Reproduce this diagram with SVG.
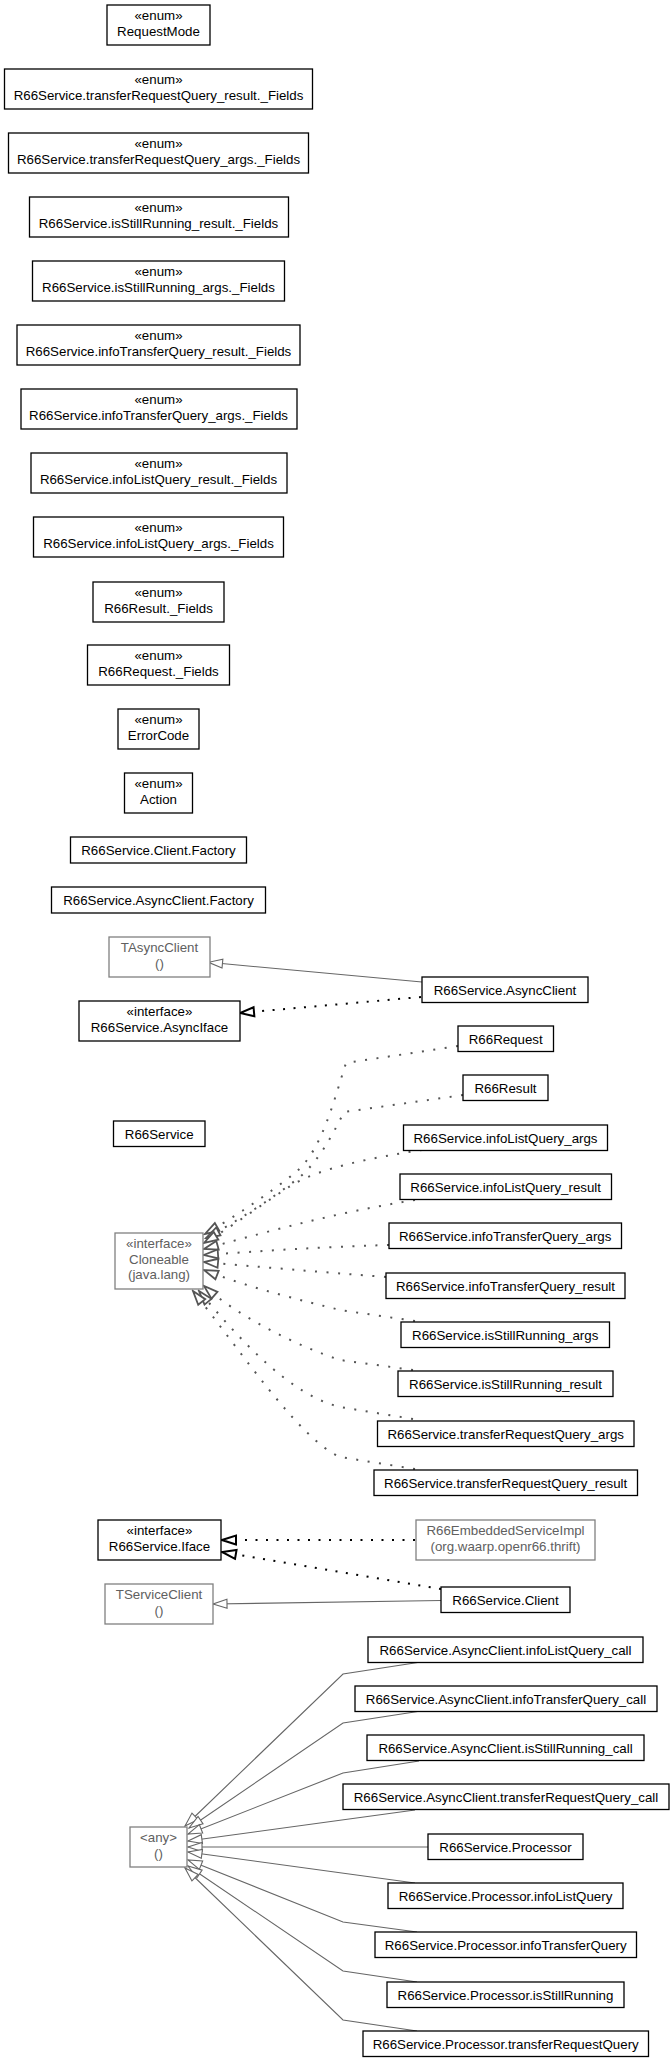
<svg xmlns="http://www.w3.org/2000/svg" width="671" height="2062" viewBox="0 0 671 2062">
<style>
.n rect{fill:#fff;stroke:#000;stroke-width:1.3}
.g rect{fill:#fff;stroke:#808080;stroke-width:1.3}
text{font-family:"Liberation Sans",Arial,sans-serif;font-size:13.3px;text-anchor:middle;fill:#000}
.g text{fill:#606060}
.e path{fill:none}
.solid{stroke:#666;stroke-width:1.1}
.real{stroke:#000;stroke-width:2;stroke-dasharray:2 8.5}
.clo{stroke:#555;stroke-width:2;stroke-dasharray:2 9.5}
</style>
<defs>
<marker id="mThin" viewBox="-2 -7 18 14" refX="14" refY="0" markerWidth="18" markerHeight="14" markerUnits="userSpaceOnUse" orient="auto">
<path d="M0,-4.5 L14,0 L0,4.5 Z" fill="#fff" stroke="#666" stroke-width="1.1"/>
</marker>
<marker id="mBold" viewBox="-2 -7 18 14" refX="14" refY="0" markerWidth="18" markerHeight="14" markerUnits="userSpaceOnUse" orient="auto">
<path d="M0,-4.5 L14,0 L0,4.5 Z" fill="#fff" stroke="#000" stroke-width="2"/>
</marker>
<marker id="mGray" viewBox="-2 -7 18 14" refX="14" refY="0" markerWidth="18" markerHeight="14" markerUnits="userSpaceOnUse" orient="auto">
<path d="M0,-4.5 L14,0 L0,4.5 Z" fill="#fff" stroke="#555" stroke-width="1.8"/>
</marker>
</defs>
<rect width="671" height="2062" fill="#fff"/>

<g id="edges" class="e">
<path class="solid" d="M422,982 L208.5,962.3" marker-end="url(#mThin)"/>
<path class="real" d="M421,997 L240,1013" marker-end="url(#mBold)"/>
<path class="clo" d="M458,1046 L346,1063 C334,1100 322,1150 296,1172 C270,1193 236,1216 205,1234" marker-end="url(#mGray)"/>
<path class="clo" d="M463,1095 L344,1112 C330,1140 316,1165 296,1180 C270,1200 236,1222 206,1238" marker-end="url(#mGray)"/>
<path class="clo" d="M422,1150 C370,1158 320,1168 292,1185 C265,1202 236,1224 204,1243" marker-end="url(#mGray)"/>
<path class="clo" d="M415,1200 C340,1212 280,1228 204,1249" marker-end="url(#mGray)"/>
<path class="clo" d="M389,1245 C320,1247 260,1251 204,1255" marker-end="url(#mGray)"/>
<path class="clo" d="M386,1277 C320,1272 260,1267 204,1262" marker-end="url(#mGray)"/>
<path class="clo" d="M415,1321 L340,1310 C300,1300 250,1288 204,1270" marker-end="url(#mGray)"/>
<path class="clo" d="M413,1370 L340,1360 C300,1347 240,1318 204,1286" marker-end="url(#mGray)"/>
<path class="clo" d="M413,1419 L340,1407 C290,1395 240,1340 199,1291" marker-end="url(#mGray)"/>
<path class="clo" d="M415,1469 L340,1457 C300,1440 240,1350 193,1291" marker-end="url(#mGray)"/>
<path class="real" d="M415,1540 L222,1540" marker-end="url(#mBold)"/>
<path class="real" d="M441,1589 L222,1552" marker-end="url(#mBold)"/>
<path class="solid" d="M441,1600.5 L213,1604" marker-end="url(#mThin)"/>
<path class="solid" d="M421,1662 L343,1674 L185,1826" marker-end="url(#mThin)"/>
<path class="solid" d="M421,1711 L343,1723 L189,1828" marker-end="url(#mThin)"/>
<path class="solid" d="M419,1761 L343,1773 L188,1834" marker-end="url(#mThin)"/>
<path class="solid" d="M415,1810 L188,1841" marker-end="url(#mThin)"/>
<path class="solid" d="M428,1847 L188,1847" marker-end="url(#mThin)"/>
<path class="solid" d="M415,1883 L188,1852" marker-end="url(#mThin)"/>
<path class="solid" d="M417,1932 L343,1922 L188,1860" marker-end="url(#mThin)"/>
<path class="solid" d="M417,1982 L343,1971 L188,1866" marker-end="url(#mThin)"/>
<path class="solid" d="M417,2031 L343,2020 L185,1868" marker-end="url(#mThin)"/>
</g>

<g id="RequestMode" class="n"><rect x="107" y="5" width="103" height="40"/><text x="158.5" y="20">«enum»</text><text x="158.5" y="35.5">RequestMode</text></g>
<g id="trq_result_fields" class="n"><rect x="4.5" y="69" width="308" height="40"/><text x="158.5" y="84">«enum»</text><text x="158.5" y="99.5">R66Service.transferRequestQuery_result._Fields</text></g>
<g id="trq_args_fields" class="n"><rect x="8.5" y="133" width="300" height="40"/><text x="158.5" y="148">«enum»</text><text x="158.5" y="163.5">R66Service.transferRequestQuery_args._Fields</text></g>
<g id="isr_result_fields" class="n"><rect x="29.5" y="197" width="259" height="40"/><text x="158.5" y="212">«enum»</text><text x="158.5" y="227.5">R66Service.isStillRunning_result._Fields</text></g>
<g id="isr_args_fields" class="n"><rect x="32.5" y="261" width="252" height="40"/><text x="158.5" y="276">«enum»</text><text x="158.5" y="291.5">R66Service.isStillRunning_args._Fields</text></g>
<g id="itq_result_fields" class="n"><rect x="17" y="325" width="283" height="40"/><text x="158.5" y="340">«enum»</text><text x="158.5" y="355.5">R66Service.infoTransferQuery_result._Fields</text></g>
<g id="itq_args_fields" class="n"><rect x="21" y="389" width="276" height="40"/><text x="158.5" y="404">«enum»</text><text x="158.5" y="419.5">R66Service.infoTransferQuery_args._Fields</text></g>
<g id="ilq_result_fields" class="n"><rect x="31" y="453" width="256" height="40"/><text x="158.5" y="468">«enum»</text><text x="158.5" y="483.5">R66Service.infoListQuery_result._Fields</text></g>
<g id="ilq_args_fields" class="n"><rect x="33.5" y="517" width="250" height="40"/><text x="158.5" y="532">«enum»</text><text x="158.5" y="547.5">R66Service.infoListQuery_args._Fields</text></g>
<g id="R66Result_Fields" class="n"><rect x="93" y="582" width="131" height="40"/><text x="158.5" y="597">«enum»</text><text x="158.5" y="612.5">R66Result._Fields</text></g>
<g id="R66Request_Fields" class="n"><rect x="87.5" y="645" width="142" height="40"/><text x="158.5" y="660">«enum»</text><text x="158.5" y="675.5">R66Request._Fields</text></g>
<g id="ErrorCode" class="n"><rect x="118" y="709" width="81" height="40"/><text x="158.5" y="724">«enum»</text><text x="158.5" y="739.5">ErrorCode</text></g>
<g id="Action" class="n"><rect x="124.5" y="773" width="68" height="40"/><text x="158.5" y="788">«enum»</text><text x="158.5" y="803.5">Action</text></g>
<g id="ClientFactory" class="n"><rect x="70.5" y="837" width="176" height="26"/><text x="158.5" y="855">R66Service.Client.Factory</text></g>
<g id="AsyncClientFactory" class="n"><rect x="51.5" y="887" width="214" height="26"/><text x="158.5" y="905">R66Service.AsyncClient.Factory</text></g>
<g id="TAsyncClient" class="g"><rect x="109" y="937" width="101" height="40"/><text x="159.5" y="952">TAsyncClient</text><text x="159.5" y="967.5">()</text></g>
<g id="AsyncIface" class="n"><rect x="79" y="1001" width="161" height="40"/><text x="159.5" y="1016">«interface»</text><text x="159.5" y="1031.5">R66Service.AsyncIface</text></g>
<g id="R66Service" class="n"><rect x="113.5" y="1121" width="91.5" height="25.5"/><text x="159.2" y="1138.5">R66Service</text></g>
<g id="Cloneable" class="g"><rect x="115" y="1233" width="88" height="56"/><text x="159" y="1248">«interface»</text><text x="159" y="1263.5">Cloneable</text><text x="159" y="1279">(java.lang)</text></g>
<g id="Iface" class="n"><rect x="98" y="1520" width="123" height="40"/><text x="159.5" y="1535">«interface»</text><text x="159.5" y="1550.5">R66Service.Iface</text></g>
<g id="TServiceClient" class="g"><rect x="105" y="1584" width="108" height="40"/><text x="159" y="1599">TServiceClient</text><text x="159" y="1614.5">()</text></g>
<g id="any" class="g"><rect x="130" y="1827" width="57" height="40"/><text x="158.5" y="1842">&lt;any&gt;</text><text x="158.5" y="1857.5">()</text></g>

<g id="AsyncClient" class="n"><rect x="422" y="977" width="166" height="25.5"/><text x="505" y="994.5">R66Service.AsyncClient</text></g>
<g id="R66Request" class="n"><rect x="458" y="1026" width="95.5" height="25.5"/><text x="505.7" y="1043.5">R66Request</text></g>
<g id="R66Result" class="n"><rect x="463" y="1075" width="85" height="25.5"/><text x="505.5" y="1092.5">R66Result</text></g>
<g id="ilq_args" class="n"><rect x="403.5" y="1125" width="204" height="25.5"/><text x="505.5" y="1142.5">R66Service.infoListQuery_args</text></g>
<g id="ilq_result" class="n"><rect x="400" y="1174" width="211.5" height="25.5"/><text x="505.7" y="1191.5">R66Service.infoListQuery_result</text></g>
<g id="itq_args" class="n"><rect x="389" y="1223" width="232.5" height="25.5"/><text x="505.2" y="1240.5">R66Service.infoTransferQuery_args</text></g>
<g id="itq_result" class="n"><rect x="386" y="1273" width="239" height="25.5"/><text x="505.5" y="1290.5">R66Service.infoTransferQuery_result</text></g>
<g id="isr_args" class="n"><rect x="401" y="1322" width="208.5" height="25.5"/><text x="505.2" y="1339.5">R66Service.isStillRunning_args</text></g>
<g id="isr_result" class="n"><rect x="398" y="1371" width="215" height="25.5"/><text x="505.5" y="1388.5">R66Service.isStillRunning_result</text></g>
<g id="trq_args" class="n"><rect x="377.5" y="1421" width="256.5" height="25.5"/><text x="505.7" y="1438.5">R66Service.transferRequestQuery_args</text></g>
<g id="trq_result" class="n"><rect x="374" y="1470" width="263.5" height="25.5"/><text x="505.7" y="1487.5">R66Service.transferRequestQuery_result</text></g>
<g id="EmbeddedServiceImpl" class="g"><rect x="416" y="1520" width="179" height="40"/><text x="505.5" y="1535">R66EmbeddedServiceImpl</text><text x="505.5" y="1550.5">(org.waarp.openr66.thrift)</text></g>
<g id="Client" class="n"><rect x="441" y="1587" width="129" height="25.5"/><text x="505.5" y="1604.5">R66Service.Client</text></g>
<g id="ilq_call" class="n"><rect x="368" y="1637" width="275" height="25.5"/><text x="505.5" y="1654.5">R66Service.AsyncClient.infoListQuery_call</text></g>
<g id="itq_call" class="n"><rect x="355" y="1686" width="302" height="25.5"/><text x="506" y="1703.5">R66Service.AsyncClient.infoTransferQuery_call</text></g>
<g id="isr_call" class="n"><rect x="367" y="1735" width="277" height="25.5"/><text x="505.5" y="1752.5">R66Service.AsyncClient.isStillRunning_call</text></g>
<g id="trq_call" class="n"><rect x="343" y="1784" width="326" height="25.5"/><text x="506" y="1801.5">R66Service.AsyncClient.transferRequestQuery_call</text></g>
<g id="Processor" class="n"><rect x="428" y="1834" width="155" height="25.5"/><text x="505.5" y="1851.5">R66Service.Processor</text></g>
<g id="p_ilq" class="n"><rect x="388" y="1883" width="235" height="25.5"/><text x="505.5" y="1900.5">R66Service.Processor.infoListQuery</text></g>
<g id="p_itq" class="n"><rect x="375" y="1932" width="261.5" height="25.5"/><text x="505.7" y="1949.5">R66Service.Processor.infoTransferQuery</text></g>
<g id="p_isr" class="n"><rect x="387" y="1982" width="237" height="25.5"/><text x="505.5" y="1999.5">R66Service.Processor.isStillRunning</text></g>
<g id="p_trq" class="n"><rect x="363" y="2031" width="285.5" height="25.5"/><text x="505.7" y="2048.5">R66Service.Processor.transferRequestQuery</text></g>
</svg>
